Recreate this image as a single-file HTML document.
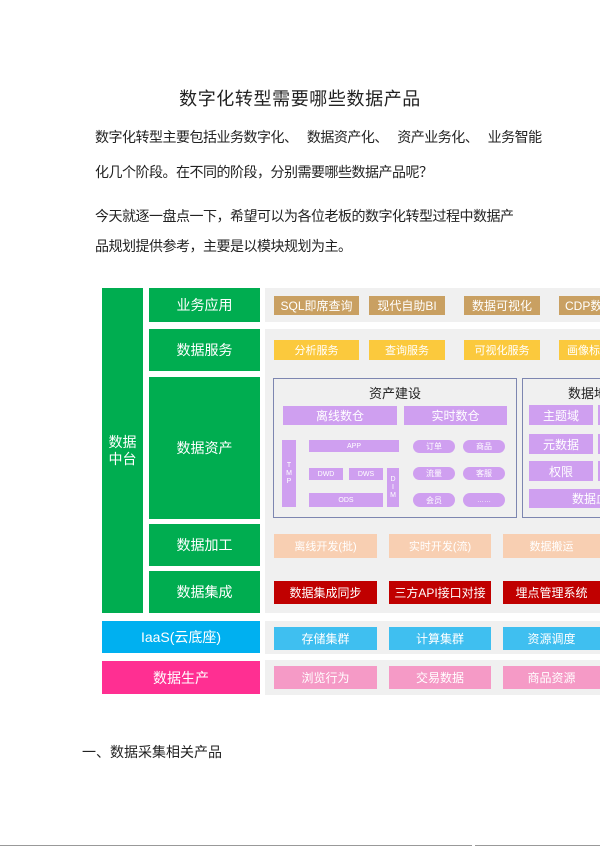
<!DOCTYPE html>
<html><head><meta charset="utf-8"><style>
body{margin:0;width:600px;height:851px;background:#fff;position:relative;overflow:hidden;font-family:"Liberation Sans","Noto Sans CJK SC",sans-serif;}
.a{position:absolute;box-sizing:border-box;display:flex;align-items:center;justify-content:center;text-align:center;white-space:nowrap;}
.t{position:absolute;white-space:nowrap;color:#222;}
.g{background:#00ad50;color:#fff;font-size:14px;}
.gray{background:#f0f0f0;}
.gold{background:#c9a062;color:#fff;font-size:12px;}
.yel{background:#fbc93d;color:#fff;font-size:11px;}
.pur{background:#cf9ff0;color:#fff;font-size:11px;}
.pch{background:#f8cfb2;color:#fff;font-size:11px;}
.red{background:#c00000;color:#fff;font-size:12px;}
.blu{background:#3fbff0;color:#fff;font-size:12px;}
.pnk{background:#f59ac6;color:#fff;font-size:11px;}
.pill{border-radius:7px;}
</style></head><body>
<div class="t" style="left:0;width:600px;text-align:center;top:85px;font-size:18px;letter-spacing:0.6px;">数字化转型需要哪些数据产品</div>
<div class="t" style="left:95px;top:127px;font-size:14px;letter-spacing:-0.5px;word-spacing:6px;">数字化转型主要包括业务数字化、 数据资产化、 资产业务化、 业务智能</div>
<div class="t" style="left:95px;top:162px;font-size:14px;letter-spacing:-0.5px;">化几个阶段。在不同的阶段，分别需要哪些数据产品呢？</div>
<div class="t" style="left:95px;top:206px;font-size:14px;letter-spacing:-0.5px;">今天就逐一盘点一下，希望可以为各位老板的数字化转型过程中数据产</div>
<div class="t" style="left:95px;top:236px;font-size:14px;letter-spacing:-0.5px;">品规划提供参考，主要是以模块规划为主。</div>

<div class="a g" style="left:102px;top:288px;width:41px;height:325px;line-height:17px;white-space:normal;">数据<br>中台</div>
<div class="a g" style="left:149px;top:288px;width:111px;height:34px;">业务应用</div>
<div class="a g" style="left:149px;top:329px;width:111px;height:42px;">数据服务</div>
<div class="a g" style="left:149px;top:377px;width:111px;height:142px;">数据资产</div>
<div class="a g" style="left:149px;top:524px;width:111px;height:42px;">数据加工</div>
<div class="a g" style="left:149px;top:571px;width:111px;height:42px;">数据集成</div>
<div class="a" style="left:102px;top:621px;width:158px;height:32px;background:#00b0f0;color:#fff;font-size:14px;">IaaS(云底座)</div>
<div class="a" style="left:102px;top:661px;width:158px;height:33px;background:#ff2f92;color:#fff;font-size:14px;">数据生产</div>

<div class="a gray" style="left:265px;top:288px;width:335px;height:34px;"></div>
<div class="a gray" style="left:265px;top:329px;width:335px;height:284px;"></div>
<div class="a gray" style="left:265px;top:621px;width:335px;height:33px;"></div>
<div class="a gray" style="left:265px;top:660px;width:335px;height:35px;"></div>

<div class="a gold" style="left:274px;top:296px;width:85px;height:19px;">SQL即席查询</div>
<div class="a gold" style="left:369px;top:296px;width:76px;height:19px;">现代自助BI</div>
<div class="a gold" style="left:464px;top:296px;width:76px;height:19px;">数据可视化</div>
<div class="a gold" style="left:559px;top:296px;width:60px;height:19px;justify-content:flex-start;padding-left:6px;">CDP数据</div>

<div class="a yel" style="left:274px;top:340px;width:85px;height:20px;">分析服务</div>
<div class="a yel" style="left:369px;top:340px;width:76px;height:20px;">查询服务</div>
<div class="a yel" style="left:464px;top:340px;width:76px;height:20px;">可视化服务</div>
<div class="a yel" style="left:559px;top:340px;width:60px;height:20px;justify-content:flex-start;padding-left:8px;">画像标签</div>

<div class="a" style="left:273px;top:378px;width:244px;height:140px;border:1px solid #7d86b0;align-items:flex-start;padding-top:4px;font-size:13px;color:#222;">资产建设</div>
<div class="a" style="left:522px;top:378px;width:100px;height:140px;border:1px solid #7d86b0;align-items:flex-start;justify-content:flex-start;padding:4px 0 0 45px;font-size:13px;color:#222;">数据地图</div>
<div class="a pur" style="left:283px;top:406px;width:114px;height:19px;font-size:12px;">离线数仓</div>
<div class="a pur" style="left:404px;top:406px;width:103px;height:19px;font-size:12px;">实时数仓</div>
<div class="a pur" style="left:282px;top:440px;width:14px;height:67px;font-size:7px;line-height:8px;white-space:normal;">T<br>M<br>P</div>
<div class="a pur" style="left:309px;top:440px;width:90px;height:12px;font-size:7px;">APP</div>
<div class="a pur" style="left:309px;top:468px;width:34px;height:12px;font-size:7px;">DWD</div>
<div class="a pur" style="left:349px;top:468px;width:34px;height:12px;font-size:7px;">DWS</div>
<div class="a pur" style="left:387px;top:468px;width:12px;height:39px;font-size:7px;line-height:8px;white-space:normal;">D<br>I<br>M</div>
<div class="a pur" style="left:309px;top:493px;width:74px;height:14px;font-size:7px;">ODS</div>
<div class="a pur pill" style="left:413px;top:440px;width:42px;height:13px;font-size:8px;">订单</div>
<div class="a pur pill" style="left:463px;top:440px;width:42px;height:13px;font-size:8px;">商品</div>
<div class="a pur pill" style="left:413px;top:467px;width:42px;height:13px;font-size:8px;">流量</div>
<div class="a pur pill" style="left:463px;top:467px;width:42px;height:13px;font-size:8px;">客服</div>
<div class="a pur pill" style="left:413px;top:493px;width:42px;height:14px;font-size:8px;">会员</div>
<div class="a pur pill" style="left:463px;top:493px;width:42px;height:14px;font-size:7px;">……</div>
<div class="a pur" style="left:529px;top:405px;width:64px;height:20px;font-size:12px;">主题域</div>
<div class="a pur" style="left:529px;top:434px;width:64px;height:20px;font-size:12px;">元数据</div>
<div class="a pur" style="left:529px;top:461px;width:64px;height:20px;font-size:12px;">权限</div>
<div class="a pur" style="left:529px;top:489px;width:80px;height:19px;font-size:12px;justify-content:flex-start;padding-left:43px;">数据血缘</div>
<div class="a pur" style="left:598px;top:405px;width:10px;height:20px;"></div>
<div class="a pur" style="left:598px;top:434px;width:10px;height:20px;"></div>
<div class="a pur" style="left:598px;top:461px;width:10px;height:20px;"></div>

<div class="a pch" style="left:274px;top:534px;width:103px;height:24px;">离线开发(批)</div>
<div class="a pch" style="left:389px;top:534px;width:102px;height:24px;">实时开发(流)</div>
<div class="a pch" style="left:503px;top:534px;width:102px;height:24px;padding-right:5px;">数据搬运</div>
<div class="a red" style="left:274px;top:581px;width:103px;height:23px;">数据集成同步</div>
<div class="a red" style="left:389px;top:581px;width:102px;height:23px;">三方API接口对接</div>
<div class="a red" style="left:503px;top:581px;width:102px;height:23px;padding-right:5px;">埋点管理系统</div>
<div class="a blu" style="left:274px;top:627px;width:103px;height:23px;">存储集群</div>
<div class="a blu" style="left:389px;top:627px;width:102px;height:23px;">计算集群</div>
<div class="a blu" style="left:503px;top:627px;width:102px;height:23px;padding-right:5px;">资源调度</div>
<div class="a pnk" style="left:274px;top:666px;width:103px;height:23px;font-size:12px;">浏览行为</div>
<div class="a pnk" style="left:389px;top:666px;width:102px;height:23px;font-size:12px;">交易数据</div>
<div class="a pnk" style="left:503px;top:666px;width:102px;height:23px;font-size:12px;padding-right:5px;">商品资源</div>

<div class="t" style="left:82px;top:742px;font-size:14px;">一、数据采集相关产品</div>
<div style="position:absolute;left:0;top:845px;width:472px;height:1px;background:#999;"></div>
<div style="position:absolute;left:475px;top:845px;width:125px;height:1px;background:#999;"></div>
</body></html>
